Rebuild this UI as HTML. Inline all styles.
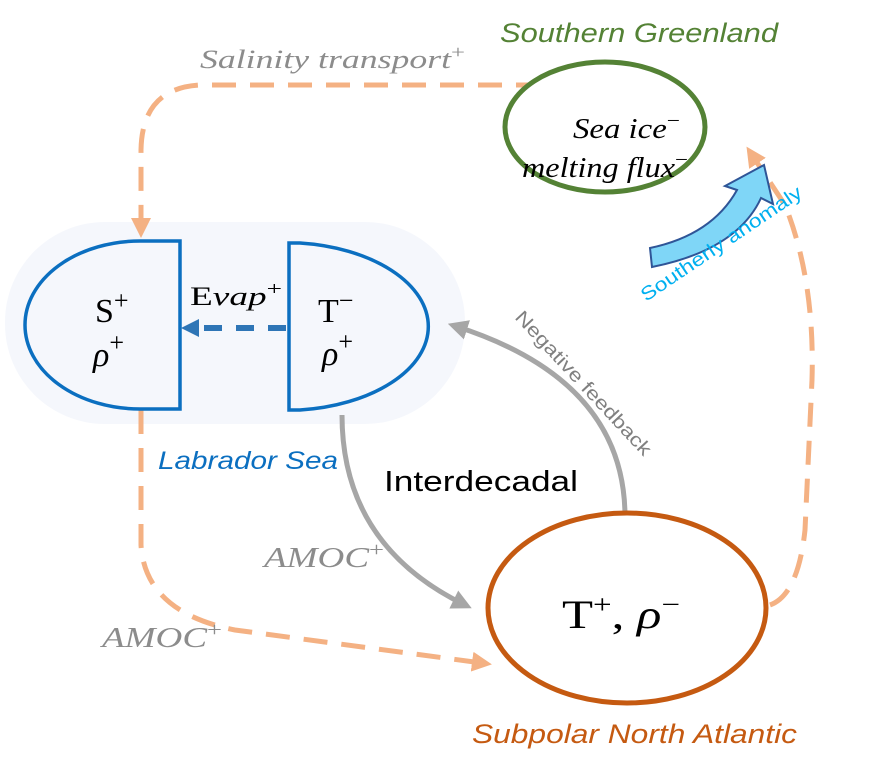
<!DOCTYPE html>
<html><head><meta charset="utf-8"><style>
html,body{margin:0;padding:0;background:#fff;}
svg{display:block;}
.m{font-family:"Liberation Serif",serif;}
.s{font-family:"Liberation Sans",sans-serif;}
</style></head><body>
<svg width="872" height="776" viewBox="0 0 872 776" xmlns="http://www.w3.org/2000/svg">
<defs>
<marker id="ao" markerWidth="4" markerHeight="4" refX="2" refY="2" orient="auto" markerUnits="strokeWidth"><path d="M0,0 L4,2 L0,4 Z" fill="#f4b183"/></marker>
<marker id="ag" markerWidth="4" markerHeight="4" refX="2.5" refY="2" orient="auto" markerUnits="strokeWidth"><path d="M0,0 L4,2 L0,4 Z" fill="#a6a6a6"/></marker>
</defs>
<rect x="5" y="222" width="460" height="202" rx="100" fill="#f5f7fc"/>
<!-- orange dashed -->
<path d="M540,85 L200,85 Q142,88 141,150 L141,228" fill="none" stroke="#f4b183" stroke-width="5" stroke-dasharray="24 14" marker-end="url(#ao)"/>
<path d="M141,410 L141,545 Q145,612 235,630 L482,663" fill="none" stroke="#f4b183" stroke-width="5" stroke-dasharray="24 14" marker-end="url(#ao)"/>
<path d="M770,605 Q798,595 805,530 L812,380 Q815,280 785,205 L752,155" fill="none" stroke="#f4b183" stroke-width="5" stroke-dasharray="24 14" marker-end="url(#ao)"/>
<!-- Labrador shapes -->
<path d="M180,241 L140,241 A115,84 0 0 0 140,409 L180,409 Z" fill="#f5f7fc" stroke="#0b6fc0" stroke-width="3.5"/>
<path d="M289,243 L300,243 A144,84 0 0 1 300,410 L289,410 Z" fill="#f5f7fc" stroke="#0b6fc0" stroke-width="3.5"/>
<path d="M286,328 L200,328" stroke="#2e75b6" stroke-width="6" stroke-dasharray="18 14"/>
<path d="M181,328 L199,319 L199,337 Z" fill="#2e75b6"/>
<text x="95" y="322" class="m" font-size="34">S<tspan font-size="26" dy="-13">+</tspan></text>
<text x="93" y="366" class="m" font-size="34" font-style="italic">ρ<tspan font-size="26" dy="-15" font-style="normal">+</tspan></text>
<text x="318" y="322" class="m" font-size="34">T<tspan font-size="26" dy="-13">−</tspan></text>
<text x="322" y="365" class="m" font-size="34" font-style="italic">ρ<tspan font-size="26" dy="-15" font-style="normal">+</tspan></text>
<text x="190" y="305" class="m" font-size="26" textLength="92" lengthAdjust="spacingAndGlyphs">E<tspan font-style="italic">vap</tspan><tspan font-size="19" dy="-10">+</tspan></text>
<!-- Greenland -->
<ellipse cx="605" cy="127" rx="100" ry="65" fill="#fff" stroke="#548235" stroke-width="5"/>
<text x="573" y="138" class="m" font-size="28" font-style="italic" textLength="107" lengthAdjust="spacingAndGlyphs">Sea ice<tspan font-style="normal" font-size="20" dy="-11">−</tspan></text>
<text x="522" y="177" class="m" font-size="28" font-style="italic" textLength="166" lengthAdjust="spacingAndGlyphs">melting flux<tspan font-style="normal" font-size="20" dy="-11">−</tspan></text>
<text x="500" y="42" class="s" font-size="27" font-style="italic" fill="#548235" textLength="278" lengthAdjust="spacingAndGlyphs">Southern Greenland</text>
<text x="200" y="68" class="m" font-size="26" font-style="italic" fill="#8c8c8c" textLength="265" lengthAdjust="spacingAndGlyphs">Salinity transport<tspan font-style="normal" font-size="18" dy="-10">+</tspan></text>
<!-- blue arrow -->
<path d="M650,248 Q712,235 737,190 L725,186 L764,165 L773,204 L761,198 Q737,250 652,267 Z" fill="#7fd6f7" stroke="#2f5597" stroke-width="2"/>
<text transform="translate(646,302) rotate(-34)" class="s" font-size="19" fill="#00b0f0" textLength="190" lengthAdjust="spacingAndGlyphs">Southerly anomaly</text>
<!-- gray arrows -->
<path d="M342,415 Q342,545 465,605" fill="none" stroke="#a6a6a6" stroke-width="5" marker-end="url(#ag)"/>
<path d="M625,517 Q625,380 455,326" fill="none" stroke="#a6a6a6" stroke-width="5" marker-end="url(#ag)"/>
<text transform="translate(514,318) rotate(47)" class="s" font-size="19" fill="#808080" textLength="190" lengthAdjust="spacingAndGlyphs">Negative feedback</text>
<text x="384" y="491" class="s" font-size="29" fill="#000" textLength="194" lengthAdjust="spacingAndGlyphs">Interdecadal</text>
<text x="264" y="567" class="m" font-size="28" font-style="italic" fill="#8c8c8c" textLength="120" lengthAdjust="spacingAndGlyphs">AMOC<tspan font-style="normal" font-size="20" dy="-11">+</tspan></text>
<text x="102" y="647" class="m" font-size="28" font-style="italic" fill="#8c8c8c" textLength="120" lengthAdjust="spacingAndGlyphs">AMOC<tspan font-style="normal" font-size="20" dy="-11">+</tspan></text>
<!-- Subpolar -->
<ellipse cx="627" cy="608" rx="139" ry="95" fill="#fff" stroke="#c55a11" stroke-width="5"/>
<text x="562" y="628" class="m" font-size="40" textLength="118" lengthAdjust="spacingAndGlyphs">T<tspan font-size="26" dy="-15">+</tspan><tspan dy="15">, </tspan><tspan font-style="italic">ρ</tspan><tspan font-size="26" dy="-15">−</tspan></text>
<text x="472" y="743" class="s" font-size="27" font-style="italic" fill="#c55a11" textLength="325" lengthAdjust="spacingAndGlyphs">Subpolar North Atlantic</text>
<text x="158" y="469" class="s" font-size="25" font-style="italic" fill="#0b6fc0" textLength="180" lengthAdjust="spacingAndGlyphs">Labrador Sea</text>
</svg>
</body></html>
